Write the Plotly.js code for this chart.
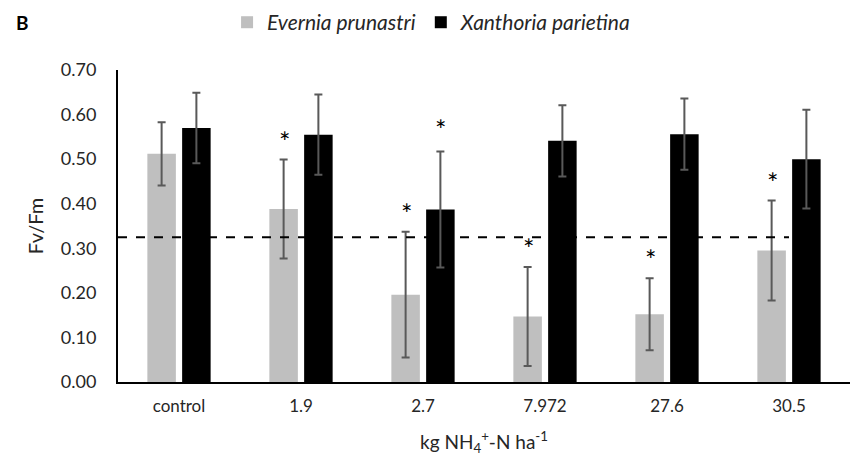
<!DOCTYPE html>
<html>
<head>
<meta charset="utf-8">
<script src="https://cdn.plot.ly/plotly-3.0.1.min.js"></script>
<style>html,body{margin:0;padding:0;background:#fff;}#chart{width:852px;height:465px;}</style>
</head>
<body>
<div id="chart"></div>
<script>
const categories = ["control", "1.9", "2.7", "7.972", "27.6", "30.5"];
const everniaMean = [0.512, 0.388, 0.196, 0.147, 0.152, 0.295];
const everniaErr  = [0.071, 0.111, 0.141, 0.111, 0.081, 0.112];
const xanthoriaMean = [0.570, 0.555, 0.387, 0.541, 0.556, 0.500];
const xanthoriaErr  = [0.079, 0.090, 0.130, 0.080, 0.080, 0.111];
const everniaSig   = [false, true, true, true, true, true];
const xanthoriaSig = [false, false, true, false, false, false];
const thresholdValue = 0.325;
const yTicks = [0, 0.1, 0.2, 0.3, 0.4, 0.5, 0.6, 0.7];

const FONT = "Lato, 'Liberation Sans', sans-serif";

const traces = [
  {
    type: "bar", name: "Evernia prunastri", x: categories, y: everniaMean,
    marker: {color: "#bfbfbf"},
    error_y: {type: "data", array: everniaErr, visible: true, color: "#595959", thickness: 2, width: 4}
  },
  {
    type: "bar", name: "Xanthoria parietina", x: categories, y: xanthoriaMean,
    marker: {color: "#000000"},
    error_y: {type: "data", array: xanthoriaErr, visible: true, color: "#595959", thickness: 2, width: 4}
  }
];

const annotations = [
  {text: "<b>B</b>", xref: "paper", yref: "paper", x: -0.142, y: 1.152, xanchor: "left", yanchor: "middle",
   showarrow: false, font: {family: FONT, size: 19, color: "#000"}}
];
categories.forEach((c, i) => {
  if (everniaSig[i]) annotations.push({text: "*", x: i, y: everniaMean[i] + everniaErr[i], xref: "x", yref: "y",
    xshift: -17, yshift: 0, yanchor: "bottom", showarrow: false, font: {family: FONT, size: 27, color: "#000"}});
  if (xanthoriaSig[i]) annotations.push({text: "*", x: i, y: xanthoriaMean[i] + xanthoriaErr[i], xref: "x", yref: "y",
    xshift: 17, yshift: 4, yanchor: "bottom", showarrow: false, font: {family: FONT, size: 27, color: "#000"}});
});

const layout = {
  width: 852, height: 465,
  margin: {l: 118, r: 2, t: 65, b: 83},
  paper_bgcolor: "#fff", plot_bgcolor: "#fff",
  barmode: "group", bargap: 0.43, bargroupgap: 0.18,
  font: {family: FONT, color: "#262626", size: 16},
  showlegend: true,
  legend: {orientation: "h", x: 0.149, y: 1.152, xanchor: "left", yanchor: "middle",
           font: {family: FONT, size: 21, color: "#262626", style: "italic"}, itemwidth: 30, tracegroupgap: 0},
  xaxis: {
    type: "category", showline: true, linecolor: "#000", linewidth: 2, ticks: "", showgrid: false,
    tickangle: 0, range: [-0.5, 5.5], ticklabelstandoff: 8,
    tickfont: {family: FONT, size: 17, color: "#262626"},
    title: {text: "kg NH<sub>4</sub><sup>+</sup>-N ha<sup>-1</sup>", font: {family: FONT, size: 19, color: "#262626"}, standoff: 20}
  },
  yaxis: {
    range: [0, 0.7], tickvals: yTicks, tickformat: ".2f", showline: true, linecolor: "#000", linewidth: 2,
    ticks: "", showgrid: false, zeroline: false, ticklabelstandoff: 16,
    tickfont: {family: FONT, size: 18, color: "#262626"},
    title: {text: "Fv/Fm", font: {family: FONT, size: 20, color: "#262626"}, standoff: 12}
  },
  shapes: [
    {type: "line", xref: "x", yref: "y", x0: -0.5, x1: 5, y0: thresholdValue, y1: thresholdValue,
     line: {color: "#000", width: 2, dash: "dash"}, layer: "above"}
  ],
  annotations: annotations
};

Plotly.newPlot("chart", traces, layout, {staticPlot: true, displayModeBar: false});
</script>
</body>
</html>
